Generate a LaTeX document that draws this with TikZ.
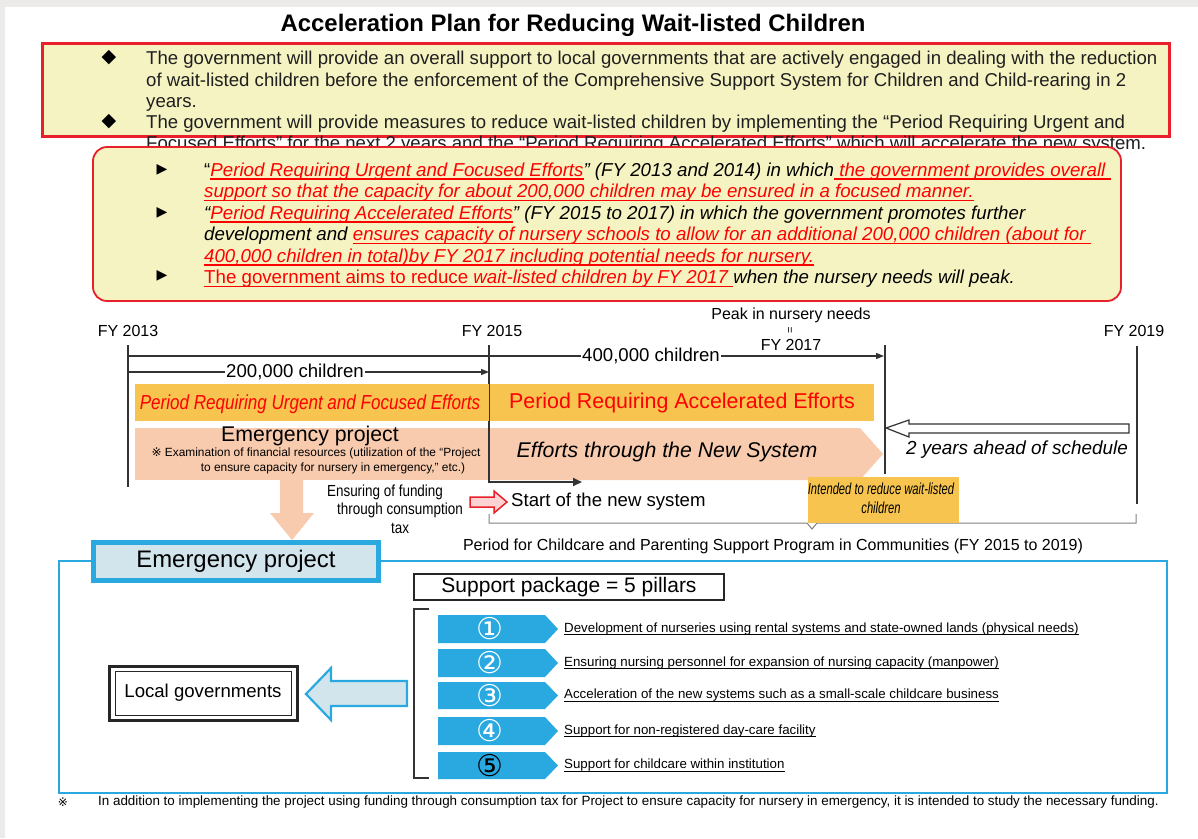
\documentclass[tikz,border=0pt]{standalone}
\usepackage{fontspec}
\setmainfont{Liberation Sans}
\newfontfamily\nar[FakeStretch=0.84]{Liberation Sans}
\newfontfamily\nnar[FakeStretch=0.7]{Liberation Sans}
\newfontfamily\sym{DejaVu Sans}
\usetikzlibrary{arrows.meta,calc}
\newcommand\myul[1]{\setbox0\hbox{#1}\rlap{\vrule width\wd0 height -2.2pt depth 3.6pt}\box0}
\definecolor{bggray}{HTML}{EDEBEA}
\definecolor{boxyellow}{HTML}{F6F3C2}
\definecolor{redline}{HTML}{E8202A}
\definecolor{tred}{HTML}{FF0000}
\definecolor{barorange}{HTML}{F6C44F}
\definecolor{peach}{HTML}{F9CBAE}
\definecolor{cyanb}{HTML}{29A9E0}
\definecolor{lightb}{HTML}{D2E5EC}
\definecolor{darkline}{HTML}{333333}
\definecolor{pinkf}{HTML}{FBD3D3}
\newcommand\fsz[1]{\fontsize{#1}{#1}\selectfont}
\newcommand\ru[1]{{\color{tred}\myul{#1}}}
\newcommand\pul[1]{\setbox0\hbox{#1}\rlap{\vrule width\wd0 height -1.7pt depth 2.6pt}\box0}
\tikzset{
  txt/.style={inner sep=0pt, anchor=base west, text=black},
  ctxt/.style={inner sep=0pt, text=black},
  tl/.style={line width=1.8pt, draw=darkline},
  harrow/.style={line width=1.3pt, draw=darkline, -{Triangle[length=8pt,width=6pt]}},
  pillar/.style={fill=cyanb, draw=none},
  pdesc/.style={inner sep=0pt, anchor=west, font=\fsz{13.3}},
}
\begin{document}
\begin{tikzpicture}[x=1pt,y=-1pt]
\useasboundingbox (0,0) rectangle (1198,838);
\fill[bggray] (0,0) rectangle (1198,838);
\fill[white] (5,7) rectangle (1198,838);

% title
\node[ctxt, font=\bfseries\fsz{23.9}] (title) at (573,25) {Acceleration Plan for Reducing Wait-listed Children};

% box 1
\node[draw=redline, line width=3pt, fill=boxyellow, minimum width=1127pt, minimum height=93pt, inner sep=0pt] (box1) at (606,90) {};
\node[ctxt, font=\sym\fsz{19}] (b1a) at (109,58) {◆};
\node[ctxt, font=\sym\fsz{19}] (b1b) at (109,122) {◆};
\begin{scope}[every node/.style={txt, font=\fsz{18.6}, text=black!88}]
\node (l1) at (146,64.5) {The government will provide an overall support to local governments that are actively engaged in dealing with the reduction};
\node (l2) at (146,86) {of wait-listed children before the enforcement of the Comprehensive Support System for Children and Child-rearing in 2};
\node (l3) at (146,107) {years.};
\node (l4) at (146,128) {The government will provide measures to reduce wait-listed children by implementing the “Period Requiring Urgent and};
\node (l5) at (146,149) {Focused Efforts” for the next 2 years and the “Period Requiring Accelerated Efforts” which will accelerate the new system.};
\end{scope}

% box 2
\draw[draw=redline, line width=1.8pt, fill=boxyellow, rounded corners=14pt] (93,147) rectangle (1121,301);
\node[inner sep=0pt, minimum width=1028pt, minimum height=154pt] (box2) at (607,224) {};
\node[ctxt, font=\sym\fsz{14}] (b2a) at (162,170) {▶};
\node[ctxt, font=\sym\fsz{14}] (b2b) at (162,213) {▶};
\node[ctxt, font=\sym\fsz{14}] (b2c) at (162,276) {▶};
\begin{scope}[every node/.style={txt, font=\itshape\fsz{18.7}}]
\node (m1) at (204,176) {{\upshape “}\ru{Period Requiring Urgent and Focused Efforts}” (FY 2013 and 2014) in which\ru{ the government provides overall }};
\node (m2) at (204,197.5) {\ru{support so that the capacity for about 200,000 children may be ensured in a focused manner.}};
\node (m3) at (204,219) {“\ru{Period Requiring Accelerated Efforts}” (FY 2015 to 2017) in which the government promotes further};
\node (m4) at (204,240.5) {development and \ru{ensures capacity of nursery schools to allow for an additional 200,000 children (about for }};
\node (m5) at (204,262) {\ru{400,000 children in total)by FY 2017 including potential needs for nursery.}};
\node (m6) at (204,283.5) {\ru{\upshape The government aims to reduce }\ru{wait-listed children by FY 2017 }when the nursery needs will peak.};
\end{scope}

% timeline labels
\node[ctxt, font=\fsz{16}] (fy13) at (128,331) {FY 2013};
\node[ctxt, font=\fsz{16}] (fy15) at (492,331) {FY 2015};
\node[ctxt, font=\fsz{16}] (fy19) at (1134,331) {FY 2019};
\node[ctxt, font=\fsz{16}] (peak) at (791,315) {Peak in nursery needs};
\node[ctxt, font=\fsz{11}, rotate=90] (eq) at (791,330) {=};
\node[ctxt, font=\fsz{16}] (fy17) at (791,345) {FY 2017};

% peach shapes
\fill[peach] (135,428) rectangle (489,480);
\node[inner sep=0pt, minimum width=354pt, minimum height=52pt] (emerg) at (312,454) {};
\fill[peach] (489,428) -- (860,428) -- (883,454) -- (860,480) -- (489,480) -- cycle;
\node[inner sep=0pt, minimum width=370pt, minimum height=52pt] (newsys) at (675,454) {};

% big down arrow
\fill[peach] (280,480) -- (303,480) -- (303,513) -- (314,513) -- (292,540) -- (270,513) -- (280,513) -- cycle;

% timeline lines
\coordinate (t13a) at (128,345); \coordinate (t13b) at (128,487);
\coordinate (t15a) at (489,345); \coordinate (t15e) at (582,482);
\coordinate (t17a) at (885,345); \coordinate (t17b) at (885,474);
\coordinate (t19a) at (1137,346); \coordinate (t19b) at (1137,504);
\draw[tl] (t13a) -- (t13b);
\draw[tl, -{Triangle[length=9pt,width=8pt]}] (t15a) |- (t15e);
\draw[tl] (t17a) -- (t17b);
\draw[tl] (t19a) -- (t19b);
\coordinate (a400s) at (128,356); \coordinate (a400e) at (884,356);
\coordinate (a200s) at (128,372); \coordinate (a200e) at (489,372);
\draw[harrow] (a400s) -- (a400e);
\draw[harrow] (a200s) -- (a200e);
\node[ctxt, fill=white, inner xsep=1pt, inner ysep=2pt, font=\fsz{18.6}] (c400) at (651,356) {400,000 children};
\node[ctxt, fill=white, inner xsep=1pt, inner ysep=2pt, font=\fsz{18.6}] (c200) at (295,372) {200,000 children};

% orange bars
\node[fill=barorange, inner sep=0pt, minimum width=354pt, minimum height=37pt] (bar1) at (312,402.5) {};
\node[fill=barorange, inner sep=0pt, minimum width=384pt, minimum height=37pt] (bar2) at (682,402.5) {};
\node[ctxt, text=tred, font=\nar\itshape\fsz{20.3}] (bar1t) at (310,404) {Period Requiring Urgent and Focused Efforts};
\node[ctxt, text=tred, font=\fsz{21.4}] (bar2t) at (682,403) {Period Requiring Accelerated Efforts};

% peach texts
\node[ctxt, font=\fsz{21.3}] (emt) at (310,436) {Emergency project};
\node[ctxt, font=\fsz{11.9}] (emn1) at (316,453) {{\sym\fsz{12}※} Examination of financial resources (utilization of the “Project};
\node[ctxt, font=\fsz{11.9}] (emn2) at (333,468) {to ensure capacity for nursery in emergency,” etc.)};
\node[ctxt, font=\itshape\fsz{21.3}] (nst) at (667,452) {Efforts through the New System};

% 2 years ahead arrow
\draw[line width=1.2pt, draw=darkline, fill=white] (886,428) -- (909,420) -- (909,424) -- (1129,424) -- (1129,433) -- (909,433) -- (909,437) -- cycle;
\coordinate (ahead) at (1017,428);
\node[ctxt, font=\itshape\fsz{18.9}] (aheadt) at (1017,450) {2 years ahead of schedule};

% funding
\node[ctxt, font=\nar\fsz{16}] (f1) at (385,492) {Ensuring of funding};
\node[ctxt, font=\nar\fsz{16}] (f2) at (400,510) {through consumption};
\node[ctxt, font=\nar\fsz{16}] (f3) at (400,528) {tax};
\draw[draw=redline, line width=1.5pt, fill=pinkf] (470,497) -- (494,497) -- (494,491) -- (507,502) -- (494,513) -- (494,507) -- (470,507) -- cycle;
\node[txt, anchor=west, font=\fsz{18.6}] (start) at (511,502) {Start of the new system};

% bracket
\draw[draw=gray, line width=1pt] (489,514) -- (489,523) -- (807,523) -- (812,529) -- (817,523) -- (1136,523) -- (1136,514);
\node[fill=barorange, inner sep=0pt, minimum width=151pt, minimum height=46pt] (intend) at (883,499.5) {};
\node[ctxt, font=\nnar\itshape\fsz{16}] (int1) at (881,489) {Intended to reduce wait-listed};
\node[ctxt, font=\nnar\itshape\fsz{16}] (int2) at (881,508) {children};
\node[ctxt, font=\fsz{16}] (period) at (773,546) {Period for Childcare and Parenting Support Program in Communities (FY 2015 to 2019)};

% blue section
\draw[draw=cyanb, line width=2pt] (59,561) rectangle (1167,793);
\node[fill=lightb, draw=cyanb, line width=5pt, minimum width=285pt, minimum height=38pt, inner sep=0pt, font=\fsz{23.9}] (emp) at (236,561.5) {Emergency project};

\node[fill=white, draw=black!85, line width=2.5pt, minimum width=310pt, minimum height=26pt, inner sep=0pt, font=\fsz{21}] (supp) at (569,587) {Support package = 5 pillars};

\draw[draw=darkline, line width=1.5pt] (429,609) -- (414,609) -- (414,778) -- (429,778);

\foreach \i/\yt/\yb/\num/\col/\desc in {
  1/615/643/①/white/Development of nurseries using rental systems and state-owned lands (physical needs),
  2/649/677/②/white/Ensuring nursing personnel for expansion of nursing capacity (manpower),
  3/682/709/③/white/Acceleration of the new systems such as a small-scale childcare business,
  4/717/745/④/white/Support for non-registered day-care facility,
  5/752/779/⑤/black/Support for childcare within institution}{
  \fill[pillar] (438,\yt) -- (545,\yt) -- (558,{(\yt+\yb)/2}) -- (545,\yb) -- (438,\yb) -- cycle;
  \node[ctxt, text=\col, font=\sym\fsz{30}] (pn\i) at (490,{(\yt+\yb)/2}) {\num};
  \node[pdesc] (pd\i) at (564,{(\yt+\yb)/2}) {\pul{\desc}};
}

% local governments
\node[draw=black!85, line width=3pt, minimum width=188pt, minimum height=54pt, inner sep=0pt] (lgo) at (203,693) {};
\node[draw=black!85, line width=0.8pt, minimum width=176pt, minimum height=44pt, inner sep=0pt, font=\fsz{18.6}] (lg) at (203,693) {Local governments};
\draw[draw=cyanb, line width=2.2pt, fill=lightb] (306,694) -- (331,668) -- (331,681) -- (407,681) -- (407,706) -- (331,706) -- (331,720) -- cycle;

% footnote
\node[ctxt, font=\sym\fsz{12}] (fnm) at (63,802) {※};
\node[txt, anchor=west, font=\fsz{13.4}] (fn) at (98,802) {In addition to implementing the project using funding through consumption tax for Project to ensure capacity for nursery in emergency, it is intended to study the necessary funding.};
\end{tikzpicture}
\end{document}
